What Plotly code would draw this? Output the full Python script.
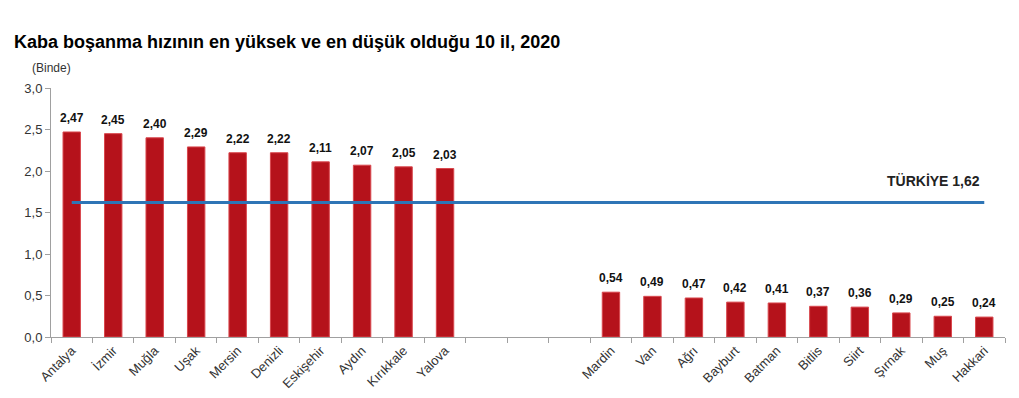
import plotly.graph_objects as go

high_provinces = ["Antalya", "İzmir", "Muğla", "Uşak", "Mersin", "Denizli", "Eskişehir", "Aydın", "Kırıkkale", "Yalova"]
high_values = [2.47, 2.45, 2.40, 2.29, 2.22, 2.22, 2.11, 2.07, 2.05, 2.03]
gap_slots = [" ", "  ", "   "]
low_provinces = ["Mardin", "Van", "Ağrı", "Bayburt", "Batman", "Bitlis", "Siirt", "Şırnak", "Muş", "Hakkari"]
low_values = [0.54, 0.49, 0.47, 0.42, 0.41, 0.37, 0.36, 0.29, 0.25, 0.24]
turkiye_value = 1.62
y_ticks = [0.0, 0.5, 1.0, 1.5, 2.0, 2.5, 3.0]

categories = high_provinces + gap_slots + low_provinces
values = high_values + [None] * len(gap_slots) + low_values

FONT = "Liberation Sans, Arial"
W, H = 1011, 390          # page body has an 8px margin
L, R, T, B = 43, 14, 80, 61
PW, PH = W - L - R, H - T - B

fig = go.Figure()
fig.add_trace(go.Bar(
    x=categories, y=values, width=0.42,
    marker=dict(color="#B5121B", line=dict(color="#D9474D", width=1)),
    hoverinfo="skip",
))
for cat, v in zip(categories, values):
    if v is None:
        continue
    fig.add_annotation(
        x=cat, y=v, xref="x", yref="y", text="<b>" + ("%.2f" % v).replace(".", ",") + "</b>",
        showarrow=False, xanchor="center", yanchor="bottom", yshift=5,
        font=dict(family=FONT, size=12, color="#111111"),
    )
fig.add_trace(go.Scatter(
    x=[categories[0], categories[-1]], y=[turkiye_value, turkiye_value],
    mode="lines", line=dict(color="#2E75B6", width=3), hoverinfo="skip",
))
fig.add_annotation(
    x=categories[-1], y=turkiye_value, xref="x", yref="y",
    text="<b>TÜRKİYE " + ("%.2f" % turkiye_value).replace(".", ",") + "</b>",
    showarrow=False, xanchor="right", yanchor="bottom", yshift=12, xshift=-2,
    font=dict(family=FONT, size=14, color="#222222"),
)
fig.add_annotation(
    x=(12 - 8 - L) / PW, y=1 + (T - (42 - 8)) / PH, xref="paper", yref="paper",
    text="<b>Kaba boşanma hızının en yüksek ve en düşük olduğu 10 il, 2020</b>",
    showarrow=False, xanchor="left", yanchor="middle",
    font=dict(family=FONT, size=18, color="#000000"),
)
fig.add_annotation(
    x=(30 - 8 - L) / PW, y=1 + (T - (68 - 8)) / PH, xref="paper", yref="paper",
    text="(Binde)", showarrow=False, xanchor="left", yanchor="middle",
    font=dict(family=FONT, size=12, color="#333333"),
)

fig.update_layout(
    width=W, height=H,
    margin=dict(l=L, r=R, t=T, b=B, autoexpand=False),
    paper_bgcolor="white", plot_bgcolor="white",
    showlegend=False, separators=",.",
    font=dict(family=FONT, size=12, color="#333333"),
)
fig.update_xaxes(
    type="category", categoryorder="array", categoryarray=categories,
    tickangle=-45, tickson="boundaries", ticks="outside", ticklen=5, tickcolor="#A0A0A0",
    showline=True, linecolor="#A0A0A0", linewidth=1, showgrid=False, automargin=False,
    tickfont=dict(family=FONT, size=13, color="#333333"),
)
fig.update_yaxes(
    range=[0, 3], tickvals=y_ticks, tickformat=".1f", ticks="outside", ticklen=5, tickcolor="#A0A0A0",
    showline=True, linecolor="#A0A0A0", linewidth=1, showgrid=False, zeroline=False, automargin=False,
    tickfont=dict(family=FONT, size=13, color="#333333"),
)
fig.write_html("out.html")
